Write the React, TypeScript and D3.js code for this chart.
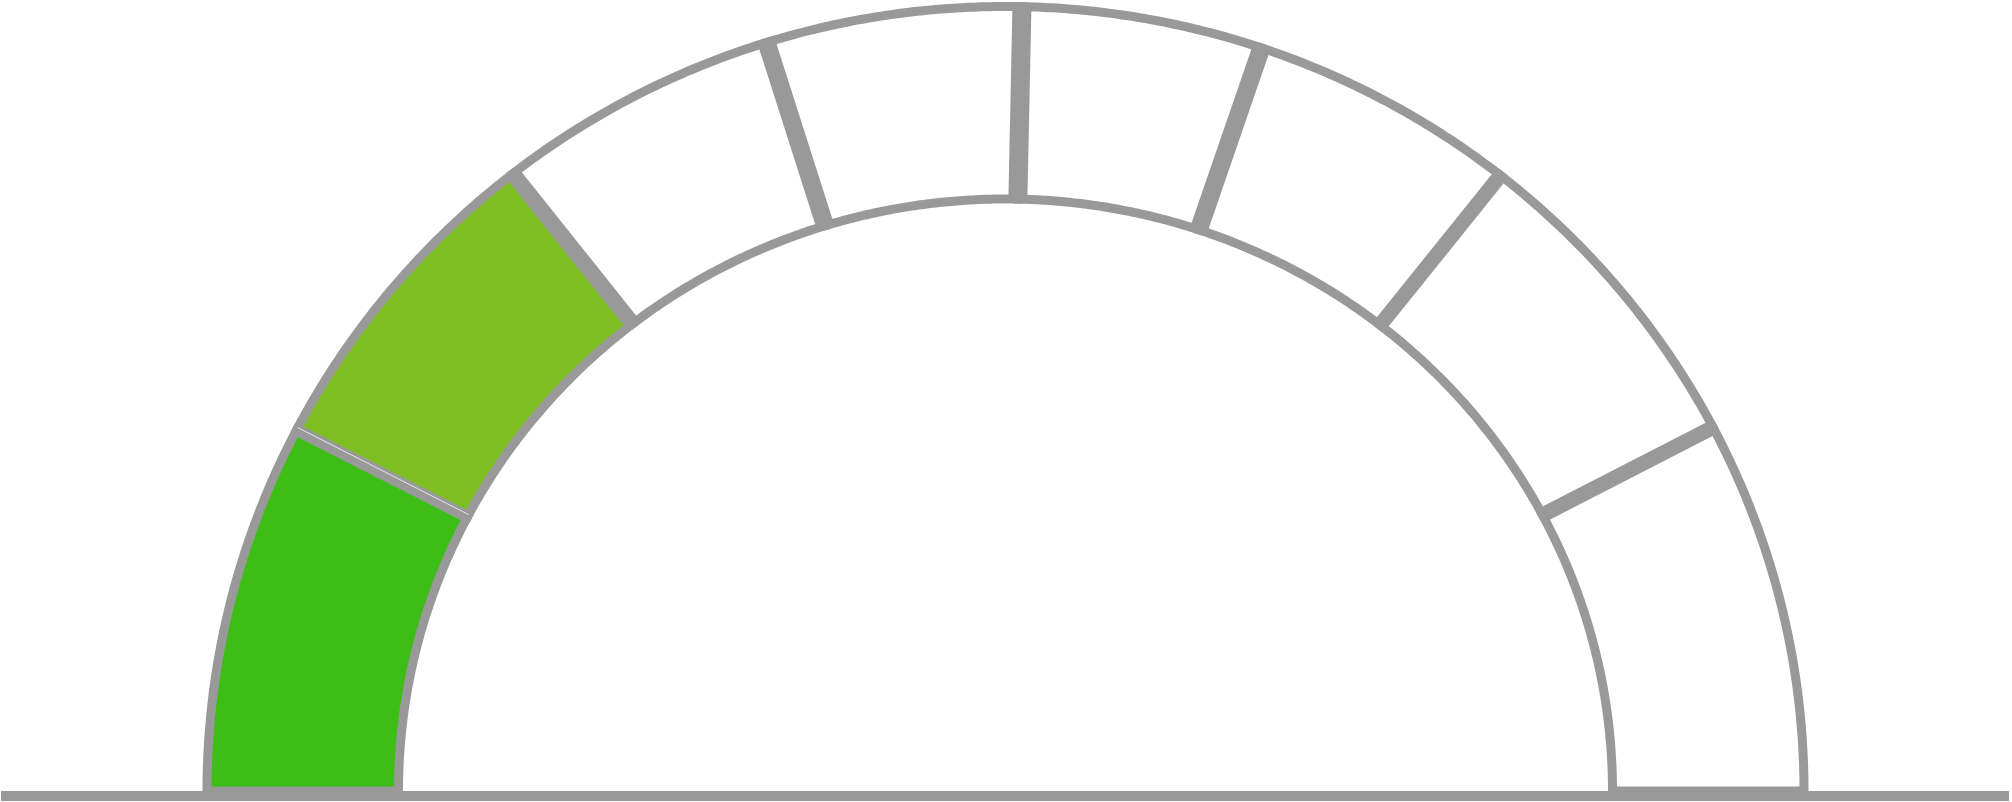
import * as d3 from 'd3';

/**
 * Semicircular gauge, 8 bands, first two filled green.
 */

// Gauge bands, left to right
const bandLabels = ['1', '2', '3', '4', '5', '6', '7', '8'];
// Band boundaries, degrees measured from the left end of the gauge
const bandBounds = [0, 27, 51.4, 72.3, 91.2, 109, 128.8, 152.8, 180];
// Which bands are lit
const bandLit = [true, true, false, false, false, false, false, false];

// styles
const litColors = ['#3DBE17', '#7DBE23'];
const gray = '#999999';
const dividerWidths = [12, 16, 18, 19, 18, 15, 15];

const W = 2012;
const H = 802;
const cx = 1005.5;
const cy = 791;
const outer = { rx: 798.5, ry: 784.5 };
const inner = { rx: 607, ry: 592 };

// degrees from left -> polar angle (y up)
const angle = d3.scaleLinear().domain([0, 180]).range([Math.PI, 0]);

function onEllipse(e: { rx: number; ry: number }, phi: number): [number, number] {
  const c = Math.cos(phi);
  const s = Math.sin(phi);
  const r = 1 / Math.sqrt((c * c) / (e.rx * e.rx) + (s * s) / (e.ry * e.ry));
  return [cx + r * c, cy - r * s];
}

const line = d3.line<[number, number]>();

function bandPath(a0: number, a1: number) {
  const t = d3.range(0, 1.0001, 1 / 64);
  const outerPts = t.map((k) => onEllipse(outer, angle(a0 + (a1 - a0) * k)));
  const innerPts = t.map((k) => onEllipse(inner, angle(a1 - (a1 - a0) * k)));
  return line([...outerPts, ...innerPts]) + 'Z';
}

export default function App() {
  const bands = bandLabels.map((label, i) => ({
    label,
    a0: bandBounds[i],
    a1: bandBounds[i + 1],
    lit: bandLit[i],
  }));
  const dividers = bandBounds.slice(1, -1);

  // hairline inside the first divider
  const d0 = angle(dividers[0]);
  const [hx0, hy0] = onEllipse(outer, d0);
  const [hx1, hy1] = onEllipse(inner, d0);
  const nx = -(hy1 - hy0);
  const ny = hx1 - hx0;
  const nl = Math.hypot(nx, ny);
  const off = -2.5;

  return (
    <svg
      width={W}
      height={H}
      style={{ position: 'absolute', left: 0, top: 0, background: '#fff' }}
    >
      <g>
        {bands.map((b, i) => (
          <path
            key={b.label}
            d={bandPath(b.a0, b.a1)}
            fill={b.lit ? litColors[i] : '#fff'}
            stroke={gray}
            strokeWidth={9}
          />
        ))}
      </g>
      <g>
        {dividers.map((a, i) => {
          const [x0, y0] = onEllipse(outer, angle(a));
          const [x1, y1] = onEllipse(inner, angle(a));
          return (
            <line
              key={i}
              x1={x0}
              y1={y0}
              x2={x1}
              y2={y1}
              stroke={gray}
              strokeWidth={dividerWidths[i]}
            />
          );
        })}
        <line
          x1={hx0 + (nx / nl) * off}
          y1={hy0 + (ny / nl) * off}
          x2={hx1 + (nx / nl) * off}
          y2={hy1 + (ny / nl) * off}
          stroke="#e4e4e4"
          strokeWidth={1}
        />
      </g>
      <rect x={1} y={791} width={2008} height={10} fill={gray} />
    </svg>
  );
}
